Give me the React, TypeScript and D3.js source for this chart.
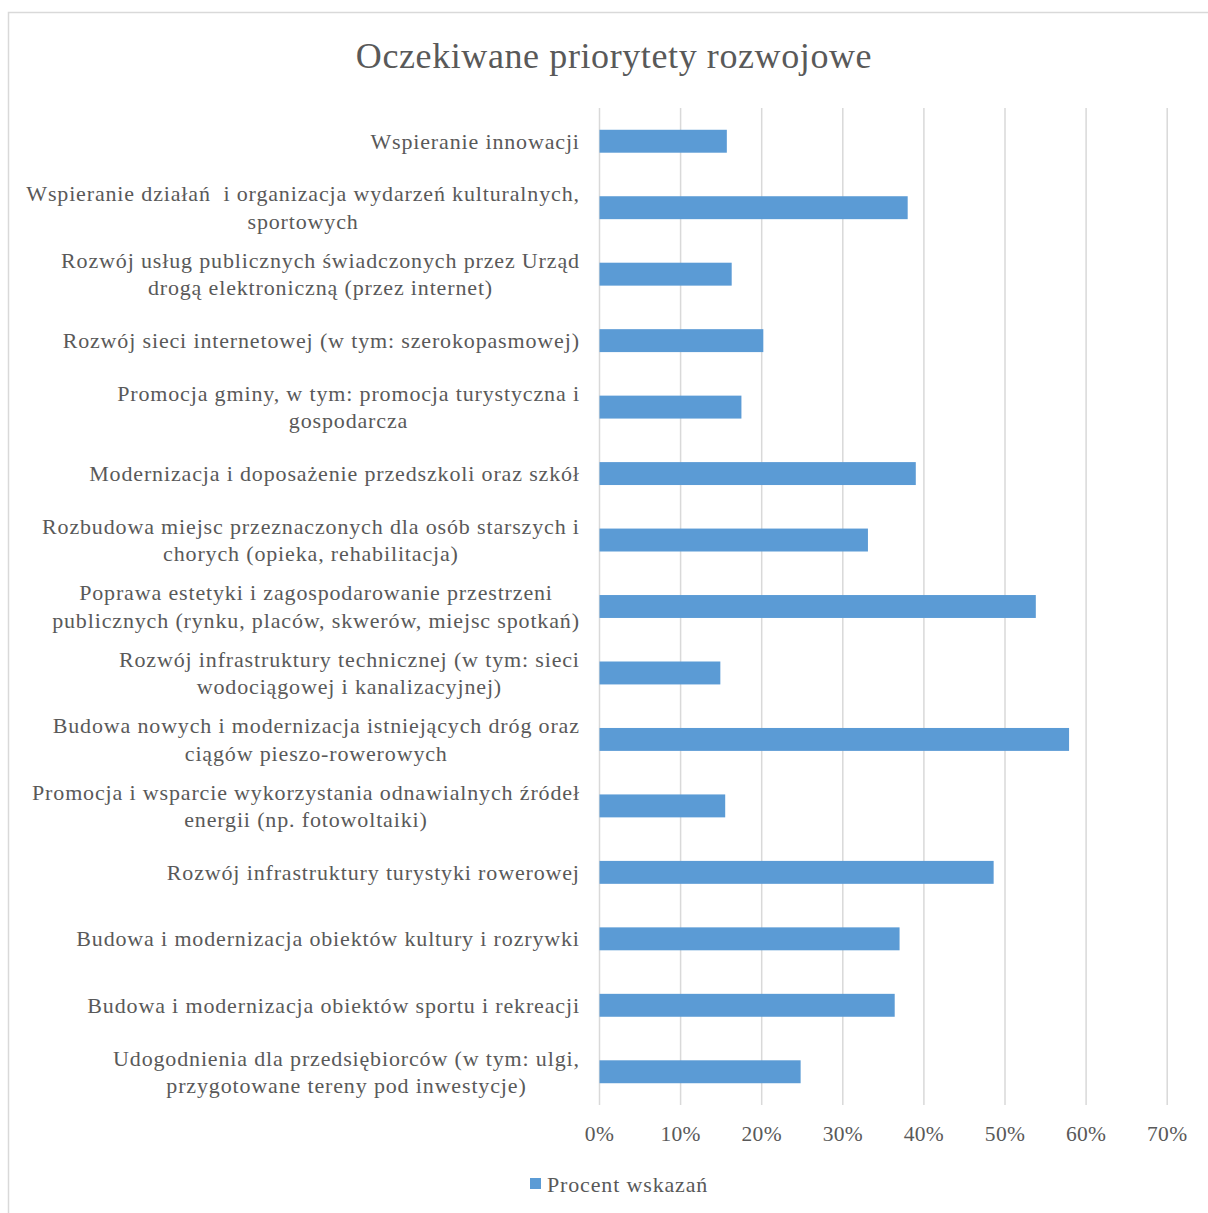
import React, { useEffect, useRef } from "react";
import * as d3 from "d3";

const categories: string[][] = [
  ["Wspieranie innowacji"],
  ["Wspieranie działań  i organizacja wydarzeń kulturalnych,", "sportowych"],
  ["Rozwój usług publicznych świadczonych przez Urząd", "drogą elektroniczną (przez internet)"],
  ["Rozwój sieci internetowej (w tym: szerokopasmowej)"],
  ["Promocja gminy, w tym: promocja turystyczna i", "gospodarcza"],
  ["Modernizacja i doposażenie przedszkoli oraz szkół"],
  ["Rozbudowa miejsc przeznaczonych dla osób starszych i", "chorych (opieka, rehabilitacja)"],
  ["Poprawa estetyki i zagospodarowanie przestrzeni", "publicznych (rynku, placów, skwerów, miejsc spotkań)"],
  ["Rozwój infrastruktury technicznej (w tym: sieci", "wodociągowej i kanalizacyjnej)"],
  ["Budowa nowych i modernizacja istniejących dróg oraz", "ciągów pieszo-rowerowych"],
  ["Promocja i wsparcie wykorzystania odnawialnych źródeł", "energii (np. fotowoltaiki)"],
  ["Rozwój infrastruktury turystyki rowerowej"],
  ["Budowa i modernizacja obiektów kultury i rozrywki"],
  ["Budowa i modernizacja obiektów sportu i rekreacji"],
  ["Udogodnienia dla przedsiębiorców (w tym: ulgi,", "przygotowane tereny pod inwestycje)"],
];

const values: number[] = [
  0.157, 0.38, 0.163, 0.202, 0.175, 0.39, 0.331, 0.538, 0.149, 0.579, 0.155, 0.486, 0.37, 0.364, 0.248,
];

const xTicks: number[] = [0, 0.1, 0.2, 0.3, 0.4, 0.5, 0.6, 0.7];

const title = "Oczekiwane priorytety rozwojowe";
const seriesName = "Procent wskazań";

const W = 1208;
const H = 1213;
const FONT = "'Liberation Serif', 'Times New Roman', serif";
const TXT = "#595959";
const LS = 0.85;

export default function App() {
  const ref = useRef<SVGSVGElement | null>(null);

  useEffect(() => {
    const svg = d3.select(ref.current);
    svg.selectAll("*").remove();

    // outer border
    svg.append("rect")
      .attr("x", 8.5).attr("y", 12.5)
      .attr("width", 1400).attr("height", 1400)
      .attr("fill", "#fff").attr("stroke", "#d9d9d9").attr("stroke-width", 1.5);

    const left = 599.5, right = 1167.2, top = 108, bottom = 1105;
    const x = d3.scaleLinear().domain([0, 0.7]).range([left, right]);
    const idx = categories.map((_, i) => String(i));
    const y = d3.scaleBand().domain(idx).range([top, bottom]).paddingInner(0.655).paddingOuter(0.3275);

    // title
    svg.append("text")
      .attr("x", 614).attr("y", 68)
      .attr("text-anchor", "middle")
      .attr("font-family", FONT).attr("font-size", 36)
      .attr("letter-spacing", 0.6)
      .attr("fill", TXT)
      .text(title);

    // gridlines
    svg.append("g").selectAll("line").data(xTicks).join("line")
      .attr("x1", d => x(d)).attr("x2", d => x(d))
      .attr("y1", top).attr("y2", bottom)
      .attr("stroke", "#d9d9d9").attr("stroke-width", 1.5);

    // bars
    svg.append("g").selectAll("rect").data(values).join("rect")
      .attr("x", x(0))
      .attr("y", (_, i) => y(String(i))!)
      .attr("width", d => x(d) - x(0))
      .attr("height", y.bandwidth())
      .attr("fill", "#5b9bd5");

    // x tick labels
    svg.append("g").selectAll("text").data(xTicks).join("text")
      .attr("x", d => x(d)).attr("y", 1141)
      .attr("text-anchor", "middle")
      .attr("font-family", FONT).attr("font-size", 21.5)
      .attr("letter-spacing", 0.3)
      .attr("fill", TXT)
      .text(d => d3.format(".0%")(d));

    // category labels
    const labelRight = 579 + LS;
    const lineH = 27.5;
    const lg = svg.append("g");
    categories.forEach((lines, i) => {
      const cy = y(String(i))! + y.bandwidth() / 2;
      const g = lg.append("g");
      const texts = lines.map((ln, j) =>
        g.append("text")
          .attr("font-family", FONT).attr("font-size", 22)
          .attr("letter-spacing", LS)
          .style("white-space", "pre")
          .attr("fill", TXT)
          .attr("text-anchor", "middle")
          .attr("y", cy + (j - (lines.length - 1) / 2) * lineH + 7.5)
          .text(ln)
      );
      const widths = texts.map(t => (t.node() as SVGTextElement).getComputedTextLength());
      const maxW = Math.max(...widths);
      texts.forEach(t => t.attr("x", labelRight - maxW / 2));
    });

    // legend
    svg.append("rect")
      .attr("x", 530).attr("y", 1178).attr("width", 11).attr("height", 11)
      .attr("fill", "#5b9bd5");
    svg.append("text")
      .attr("x", 547).attr("y", 1192)
      .attr("font-family", FONT).attr("font-size", 22)
      .attr("letter-spacing", LS)
      .attr("fill", TXT)
      .text(seriesName);
  }, []);

  return (
    <svg
      ref={ref}
      width={W}
      height={H}
      style={{ position: "absolute", left: 0, top: 0, background: "#fff" }}
    />
  );
}
